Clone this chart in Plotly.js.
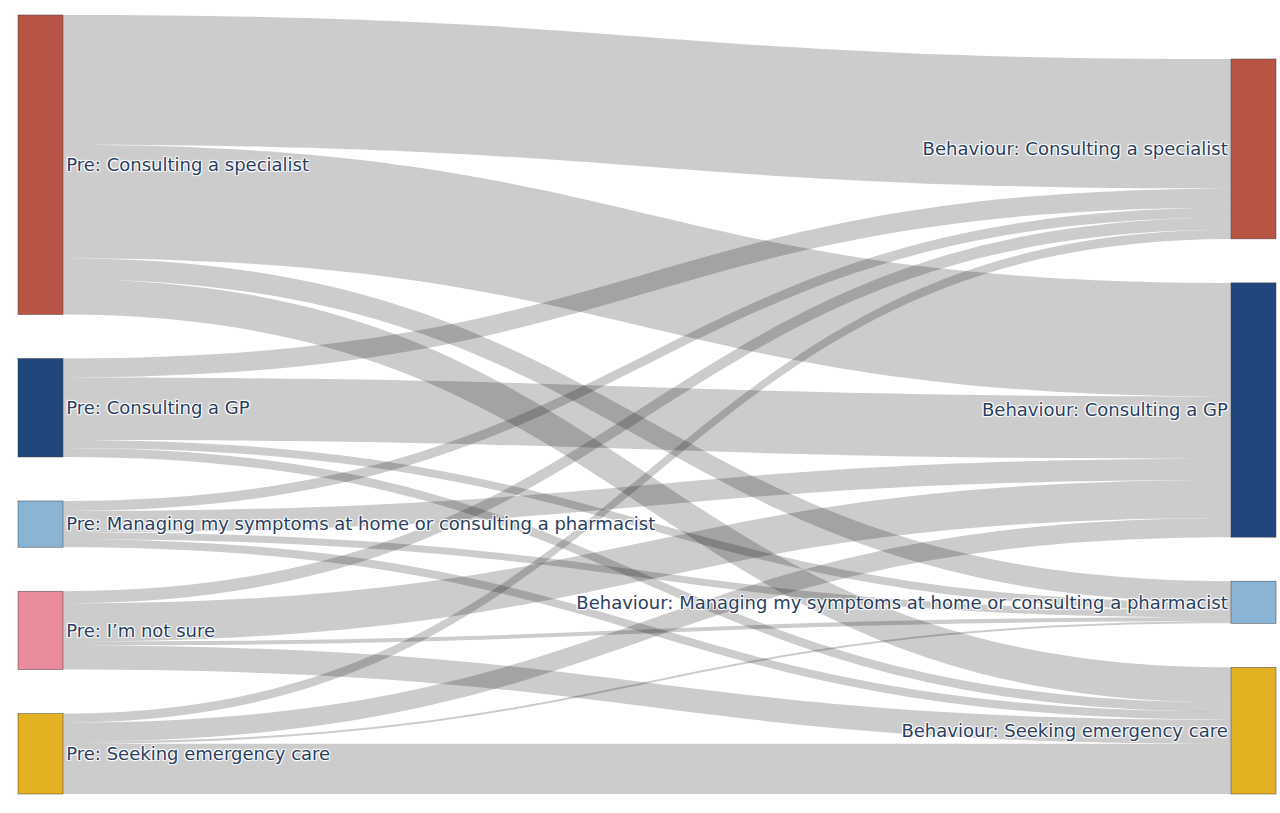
<!DOCTYPE html>
<html>
<head>
<meta charset="utf-8">
<script src="https://cdn.plot.ly/plotly-3.0.1.min.js"></script>
<style>
  html, body { margin: 0; padding: 0; background: #fff; }
  #chart { width: 1280px; height: 813px; }
</style>
</head>
<body>
<div id="chart"></div>
<script>
const preLabels = [
  "Pre: Consulting a specialist",
  "Pre: Consulting a GP",
  "Pre: Managing my symptoms at home or consulting a pharmacist",
  "Pre: I\u2019m not sure",
  "Pre: Seeking emergency care",
];
const behaviourLabels = [
  "Behaviour: Consulting a specialist",
  "Behaviour: Consulting a GP",
  "Behaviour: Managing my symptoms at home or consulting a pharmacist",
  "Behaviour: Seeking emergency care",
];

// respondents moving from each "Pre" answer to each "Behaviour" answer
// (columns follow behaviourLabels)
const fromSpecialist = [129, 113, 21, 35];
const fromGP = [19, 62, 8, 9];
const fromManaging = [10, 21, 7, 8];
const fromNotSure = [12, 38, 4, 24];
const fromEmergency = [9, 19, 2, 50];

const preColors = ["#b85443", "#1f477b", "#8ab4d5", "#e88b9b", "#e3b122"];
const behaviourColors = ["#b85443", "#1f477b", "#8ab4d5", "#e3b122"];

document.addEventListener("DOMContentLoaded", () => {
  const rows = [fromSpecialist, fromGP, fromManaging, fromNotSure, fromEmergency];

  const source = [];
  const target = [];
  const value = [];
  rows.forEach((row, i) => {
    row.forEach((v, j) => {
      source.push(i);
      target.push(preLabels.length + j);
      value.push(v);
    });
  });

  const trace = {
    type: "sankey",
    arrangement: "snap",
    node: {
      label: preLabels.concat(behaviourLabels),
      color: preColors.concat(behaviourColors),
      pad: 44,
      thickness: 45,
      line: { color: "#444", width: 0.5 },
    },
    link: {
      source: source,
      target: target,
      value: value,
      color: "rgba(0,0,0,0.2)",
    },
  };

  const layout = {
    width: 1280,
    height: 813,
    margin: { l: 18, r: 4, t: 15, b: 19 },
    font: { family: "DejaVu Sans, Verdana, sans-serif", size: 18, color: "#2a3f5f" },
    paper_bgcolor: "#fff",
  };

  Plotly.newPlot("chart", [trace], layout, { displayModeBar: false });
});
</script>
</body>
</html>
